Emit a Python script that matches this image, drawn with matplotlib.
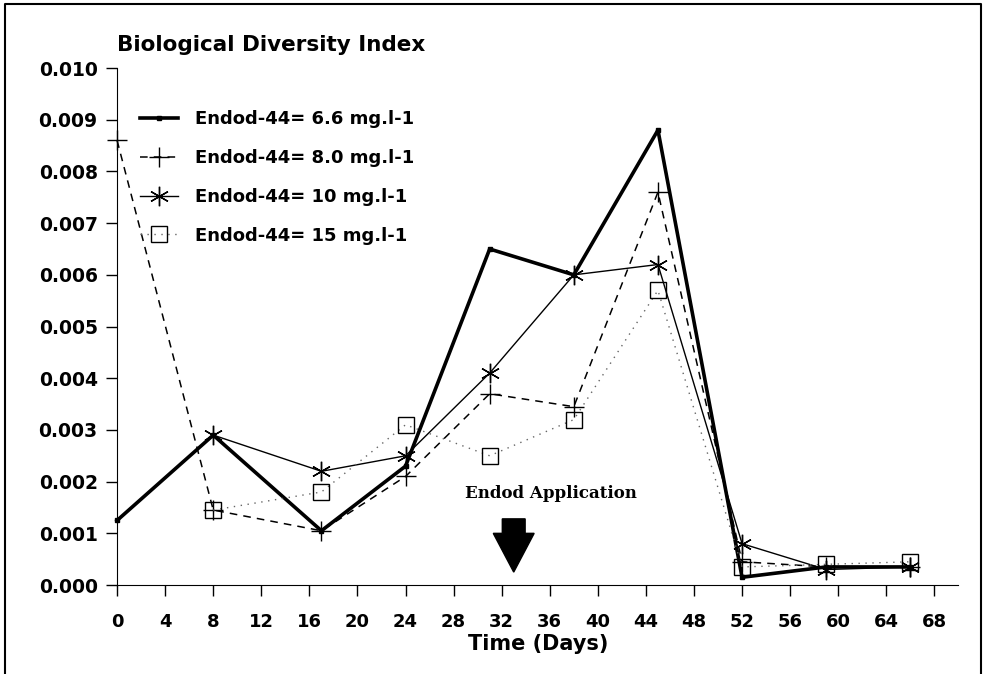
import numpy as np
import matplotlib
matplotlib.use("Agg")
from matplotlib import pyplot as plt
from matplotlib.patches import FancyArrow

plt.rcParams['font.family'] = ['DejaVu Sans']

# days sampled
days = [0, 8, 17, 24, 31, 38, 45, 52, 59, 66]
days_late = [8, 17, 24, 31, 38, 45, 52, 59, 66]

# diversity index per concentration
conc_66 = [0.00125, 0.0029, 0.00105, 0.0023, 0.0065, 0.0060, 0.0088, 0.00015, 0.00035, 0.00035]
conc_80 = [0.0086, 0.00145, 0.00105, 0.0021, 0.0037, 0.00345, 0.0076, 0.00045, 0.00035, 0.00035]
conc_10 = [0.0029, 0.0022, 0.0025, 0.0041, 0.0060, 0.0062, 0.0008, 0.0003, 0.00035]
conc_15 = [0.00145, 0.0018, 0.0031, 0.0025, 0.0032, 0.0057, 0.00035, 0.0004, 0.00045]

labels = ['Endod-44= 6.6 mg.l-1', 'Endod-44= 8.0 mg.l-1',
          'Endod-44= 10 mg.l-1', 'Endod-44= 15 mg.l-1']
xticks = np.arange(0, 69, 4)
yticks = np.arange(0, 0.0101, 0.001)

fig = plt.figure(figsize=(9.84, 6.74), dpi=100)
ax = fig.add_axes([0.119, 0.132, 0.855, 0.767])

ax.plot(days, conc_66, color='black', lw=2.6, marker='s', ms=3, label=labels[0], clip_on=False)
ax.plot(days, conc_80, color='black', lw=1.1, ls=(0, (5, 4)), marker='+', ms=14,
        mew=1.0, label=labels[1], clip_on=False)
ax.plot(days_late, conc_10, color='black', lw=1.0, marker=(6, 2, 0), ms=14,
        mew=1.0, label=labels[2], clip_on=False)
ax.plot(days_late, conc_15, color='#666666', lw=1.0, ls=(0, (1, 4)), marker='s', ms=11,
        mfc='none', mec='black', mew=1.0, label=labels[3], clip_on=False)

# application marker
ax.text(36.1, 0.00178, 'Endod Application', ha='center', va='center',
        fontsize=12, fontweight='bold', family='DejaVu Serif')
ax.add_patch(FancyArrow(33, 0.00128, 0, -0.00103, width=1.9, head_width=3.4,
                        head_length=0.00075, length_includes_head=True,
                        color='black'))

ax.set_xlim(0, 70)
ax.set_ylim(0, 0.010)
ax.set_xticks(xticks)
ax.set_yticks(yticks)
ax.set_yticklabels(['%.3f' % v for v in yticks])
ax.tick_params(labelsize=13, length=8, width=1, direction='out')
ax.tick_params(axis='x', pad=12)
ax.tick_params(axis='y', labelsize=13.5, pad=6)
for lab in ax.get_xticklabels() + ax.get_yticklabels():
    lab.set_fontweight('bold')
ax.spines['top'].set_visible(False)
ax.spines['right'].set_visible(False)
ax.set_xlabel('Time (Days)', fontsize=15, fontweight='bold', labelpad=2)
ax.set_title('Biological Diversity Index', loc='left', fontsize=15.5,
             fontweight='bold', pad=12)

leg = ax.legend(loc='upper left', bbox_to_anchor=(0.027, 0.918), frameon=False,
                prop={'size': 13, 'weight': 'bold'}, handlelength=2.1,
                labelspacing=1.15, handletextpad=0.95, borderpad=0,
                borderaxespad=0)

# scanned page frame
fig.add_artist(plt.Line2D([0.005, 0.005, 0.997, 0.997], [0.0, 0.994, 0.994, 0.0],
                          transform=fig.transFigure, color='black', lw=1.5))

fig.savefig('out.png', dpi=100)
